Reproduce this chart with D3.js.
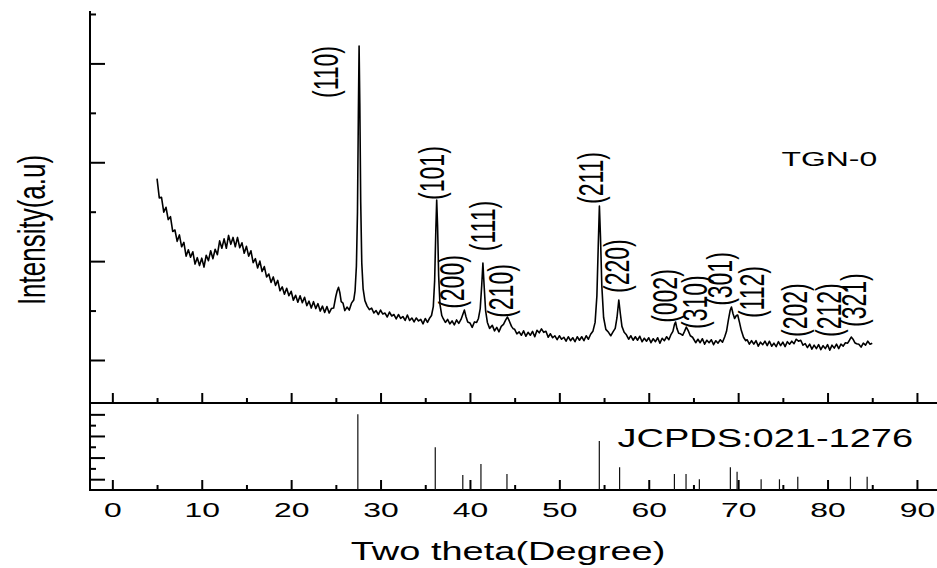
<!DOCTYPE html>
<meta charset="utf-8">
<style>
body { margin: 0; background: #fff; }
svg { display: block; font-family: "Liberation Sans", Arial, sans-serif; }
.frame { stroke: #000; stroke-width: 2; fill: none; }
.axis path { display: none; }
.axis line { stroke: #000; stroke-width: 2; }
.scan { fill: none; stroke: #000; stroke-width: 1.6; stroke-linejoin: round; }
.stick { stroke: #111; stroke-width: 1.2; }
</style>
<svg width="937" height="568"></svg>
<script src="https://d3js.org/d3.v7.min.js"></script>
<script>

// measured pattern, [2theta, counts]
var scan = [
  [5.00,2835],[5.25,2640],[5.50,2645],[5.75,2495],[6.00,2545],[6.25,2420],[6.50,2450],[6.75,2300],
  [7.00,2315],[7.25,2200],[7.50,2265],[7.75,2145],[8.00,2190],[8.25,2050],[8.50,2115],[8.75,2040],
  [9.00,2095],[9.25,1970],[9.50,2035],[9.75,1955],[10.00,2030],[10.25,1940],[10.50,2060],[10.75,2005],
  [11.00,2105],[11.25,2025],[11.50,2120],[11.75,2065],[12.00,2205],[12.25,2130],[12.50,2225],[12.75,2130],
  [13.00,2260],[13.25,2170],[13.50,2240],[13.75,2145],[14.00,2240],[14.25,2135],[14.50,2185],[14.75,2080],
  [15.00,2150],[15.25,2050],[15.50,2105],[15.75,1985],[16.00,2025],[16.25,1930],[16.50,2000],[16.75,1895],
  [17.00,1945],[17.25,1840],[17.50,1870],[17.75,1785],[18.00,1840],[18.25,1755],[18.50,1805],[18.75,1700],
  [19.00,1740],[19.25,1665],[19.50,1725],[19.75,1650],[20.00,1695],[20.25,1605],[20.50,1655],[20.75,1585],
  [21.00,1650],[21.25,1580],[21.50,1635],[21.75,1550],[22.00,1595],[22.25,1525],[22.50,1590],[22.75,1520],
  [23.00,1570],[23.25,1495],[23.50,1545],[23.75,1480],[24.00,1540],[24.25,1475],[24.50,1520],[24.75,1525],
  [25.00,1645],[25.15,1700],[25.30,1735],[25.45,1680],[25.60,1590],[25.80,1575],[26.00,1500],[26.25,1535],
  [26.50,1505],[26.75,1575],[27.00,1606],[27.15,1700],[27.30,1950],[27.42,2500],[27.52,3500],[27.60,4176],
  [27.68,3600],[27.78,2600],[27.90,1980],[28.05,1720],[28.25,1600],[28.50,1545],[28.75,1510],
  [29.00,1525],[29.25,1475],[29.50,1500],[29.75,1460],[30.00,1505],[30.25,1465],[30.50,1475],[30.75,1435],
  [31.00,1485],[31.25,1445],[31.50,1460],[31.75,1415],[32.00,1460],[32.25,1420],[32.50,1440],[32.75,1400],
  [33.00,1455],[33.25,1400],[33.50,1425],[33.75,1385],[34.00,1425],[34.25,1395],[34.50,1410],[34.75,1365],
  [35.00,1420],[35.25,1380],[35.50,1425],[35.70,1450],[35.90,1540],[36.05,1800],[36.18,2300],[36.28,2618],
  [36.38,2350],[36.50,1850],[36.65,1560],[36.85,1450],[37.00,1420],[37.25,1380],[37.50,1410],[37.75,1365],
  [38.00,1395],[38.25,1355],[38.50,1405],[38.75,1370],[39.00,1410],[39.20,1460],[39.38,1505],[39.55,1440],
  [39.75,1385],[40.00,1375],[40.25,1330],[40.50,1385],[40.75,1380],[40.95,1420],[41.15,1520],[41.32,1760],
  [41.45,1981],[41.58,1760],[41.75,1500],[41.95,1380],[42.20,1320],[42.50,1350],[42.75,1295],[43.00,1330],
  [43.25,1285],[43.50,1340],[43.75,1360],[44.00,1405],[44.20,1435],[44.40,1395],[44.65,1340],[44.85,1315],
  [45.00,1310],[45.25,1265],[45.50,1285],[45.75,1250],[46.00,1295],[46.25,1240],[46.50,1280],[46.75,1250],
  [47.00,1290],[47.25,1235],[47.50,1300],[47.75,1275],[48.00,1315],[48.25,1280],[48.50,1290],[48.75,1230],
  [49.00,1265],[49.25,1225],[49.50,1245],[49.75,1205],[50.00,1245],[50.25,1210],[50.50,1230],[50.75,1190],
  [51.00,1235],[51.25,1195],[51.50,1225],[51.75,1185],[52.00,1235],[52.25,1200],[52.50,1235],[52.75,1195],
  [53.00,1245],[53.25,1210],[53.50,1260],[53.75,1290],[54.00,1380],[54.20,1650],[54.35,2150],[54.48,2557],
  [54.60,2250],[54.75,1750],[54.95,1430],[55.20,1310],[55.50,1280],[55.75,1245],[56.00,1285],[56.25,1320],
  [56.45,1430],[56.65,1607],[56.82,1470],[57.00,1340],[57.25,1280],[57.50,1255],[57.75,1210],[58.00,1245],
  [58.25,1200],[58.50,1235],[58.75,1200],[59.00,1240],[59.25,1185],[59.50,1220],[59.75,1190],[60.00,1225],
  [60.25,1175],[60.50,1215],[60.75,1185],[61.00,1225],[61.25,1170],[61.50,1220],[61.75,1195],[62.00,1235],
  [62.25,1205],[62.50,1260],[62.70,1290],[62.88,1360],[63.00,1384],[63.15,1320],[63.35,1270],[63.55,1265],
  [63.80,1250],[64.00,1290],[64.20,1333],[64.40,1300],[64.65,1245],[64.90,1230],[65.00,1215],[65.25,1175],
  [65.50,1210],[65.75,1175],[66.00,1215],[66.25,1160],[66.50,1200],[66.75,1175],[67.00,1205],[67.25,1155],
  [67.50,1195],[67.75,1170],[68.00,1205],[68.25,1180],[68.50,1235],[68.70,1290],[68.90,1400],[69.10,1500],
  [69.25,1536],[69.42,1470],[69.60,1420],[69.80,1450],[69.95,1455],[70.15,1380],[70.35,1300],[70.60,1230],
  [70.85,1195],[71.00,1205],[71.25,1160],[71.50,1195],[71.75,1160],[72.00,1195],[72.25,1140],[72.50,1180],
  [72.75,1155],[73.00,1190],[73.25,1145],[73.50,1190],[73.75,1140],[74.00,1170],[74.25,1135],[74.50,1185],
  [74.75,1145],[75.00,1180],[75.25,1135],[75.50,1185],[75.75,1160],[76.00,1190],[76.25,1165],[76.50,1210],
  [76.75,1190],[77.00,1200],[77.25,1150],[77.50,1165],[77.75,1125],[78.00,1160],[78.25,1110],[78.50,1150],
  [78.75,1115],[79.00,1155],[79.25,1105],[79.50,1145],[79.75,1115],[80.00,1155],[80.25,1100],[80.50,1150],
  [80.75,1120],[81.00,1160],[81.25,1115],[81.50,1160],[81.75,1140],[82.00,1175],[82.25,1170],[82.45,1200],
  [82.65,1232],[82.85,1210],[83.05,1175],[83.25,1165],[83.50,1160],[83.75,1130],[84.00,1170],[84.25,1150],
  [84.50,1190],[84.75,1160],[85.00,1170]
];

// JCPDS 021-1276 reference lines
var refTheta = [27.46, 36.12, 39.2, 41.23, 44.14, 54.47, 56.74, 62.87, 64.17, 65.66, 69.13, 69.88, 72.57, 74.62, 76.67, 82.56, 84.43];
var refInt   = [70.0, 39.5, 13.9, 24.0, 14.8, 45.3, 21.0, 14.8, 14.8, 9.9, 21.0, 16.9, 9.9, 9.9, 12.3, 12.3, 12.3];

// peak indices, placed in data units
var hklText  = ["(110)", "(101)", "(111)", "(200)", "(210)", "(211)", "(220)", "(002)", "(310)", "(301)", "(112)", "(202)", "(212)", "(321)"];
var hklTheta = [23.92, 35.78, 41.38, 38.02, 43.5, 53.47, 56.37, 61.75, 65.11, 67.9, 71.48, 76.3, 80.1, 82.9];
var hklLevel = [3913, 2891, 2355, 1789, 1698, 2841, 1950, 1647, 1586, 1819, 1687, 1505, 1505, 1606];

var xMajor = [0, 10, 20, 30, 40, 50, 60, 70, 80, 90],
    xMinor = [5, 15, 25, 35, 45, 55, 65, 75, 85];

var sx = 1.52; // horizontal stretch of the original figure

var svg = d3.select("svg");

var x = d3.scaleLinear().domain([-2.5, 92.5]).range([90, 939.3]),
    y = d3.scaleLinear().domain([565, 4520]).range([403, 12]),
    y2 = d3.scaleLinear().domain([0, 80.5]).range([490, 403]);

// left y ticks, top panel
svg.append("g").attr("class", "axis").attr("transform", "translate(90,0)")
    .call(d3.axisRight(y).tickValues([1000, 2000, 3000, 4000]).tickSize(15).tickFormat(""));
svg.append("g").attr("class", "axis").attr("transform", "translate(90,0)")
    .call(d3.axisRight(y).tickValues([1500, 2500, 3500, 4500]).tickSize(6).tickFormat(""));

// left y ticks, reference panel
svg.append("g").attr("class", "axis").attr("transform", "translate(90,0)")
    .call(d3.axisRight(y2).tickValues([10, 30, 50, 70]).tickSize(15).tickFormat(""));
svg.append("g").attr("class", "axis").attr("transform", "translate(90,0)")
    .call(d3.axisRight(y2).tickValues([20, 40, 60]).tickSize(6).tickFormat(""));

// x ticks on both horizontal lines
[403, 490].forEach(function(yy) {
  svg.append("g").attr("class", "axis").attr("transform", "translate(0," + yy + ")")
      .call(d3.axisTop(x).tickValues(xMajor).tickSize(10).tickFormat(""));
  svg.append("g").attr("class", "axis").attr("transform", "translate(0," + yy + ")")
      .call(d3.axisTop(x).tickValues(xMinor).tickSize(5).tickFormat(""));
});

var xl = svg.append("g").attr("class", "axis").attr("transform", "translate(0,490)")
    .call(d3.axisBottom(x).tickValues(xMajor).tickSize(0).tickPadding(12));
xl.selectAll("text")
    .attr("transform", "scale(" + sx + ",1)")
    .style("font-family", "'Liberation Sans', Arial, sans-serif")
    .style("font-size", "21px")
    .attr("fill", "#000");

// frame lines
svg.append("line").attr("class", "frame").attr("x1", 90).attr("x2", 90).attr("y1", 11).attr("y2", 491);
svg.append("line").attr("class", "frame").attr("x1", 89).attr("x2", 937).attr("y1", 403).attr("y2", 403);
svg.append("line").attr("class", "frame").attr("x1", 89).attr("x2", 937).attr("y1", 490).attr("y2", 490);

// pattern
var line = d3.line()
    .x(function(d) { return x(d[0]); })
    .y(function(d) { return y(d[1]); });

svg.append("path").datum(scan).attr("class", "scan").attr("d", line);

// reference sticks
svg.selectAll(".stick")
  .data(refTheta)
  .enter().append("line")
    .attr("class", "stick")
    .attr("x1", function(d) { return x(d); })
    .attr("x2", function(d) { return x(d); })
    .attr("y1", y2(0))
    .attr("y2", function(d, i) { return y2(refInt[i]); });

// hkl labels
svg.selectAll(".hkl")
  .data(hklText)
  .enter().append("text")
    .attr("class", "hkl")
    .attr("transform", function(d, i) {
      return "translate(" + x(hklTheta[i]) + "," + y(hklLevel[i]) + ") scale(" + sx + ",1) rotate(-90)";
    })
    .attr("text-anchor", "middle")
    .attr("dy", "0.35em")
    .style("font-size", "23px")
    .text(function(d) { return d; });

svg.append("text")
    .attr("transform", "translate(" + x(80.2) + "," + y(2962) + ") scale(" + sx + ",1)")
    .attr("text-anchor", "middle")
    .style("font-size", "21px")
    .text("TGN-0");

svg.append("text")
    .attr("transform", "translate(" + x(56.5) + "," + y2(39.8) + ") scale(" + sx + ",1)")
    .style("font-size", "25px")
    .text("JCPDS:021-1276");

// axis titles
svg.append("text")
    .attr("transform", "translate(31,230) scale(" + sx + ",1) rotate(-90)")
    .attr("text-anchor", "middle")
    .attr("dy", "0.35em")
    .style("font-size", "26px")
    .text("Intensity(a.u)");

svg.append("text")
    .attr("transform", "translate(508,560) scale(" + sx + ",1)")
    .attr("text-anchor", "middle")
    .style("font-size", "25px")
    .text("Two theta(Degree)");

</script>
